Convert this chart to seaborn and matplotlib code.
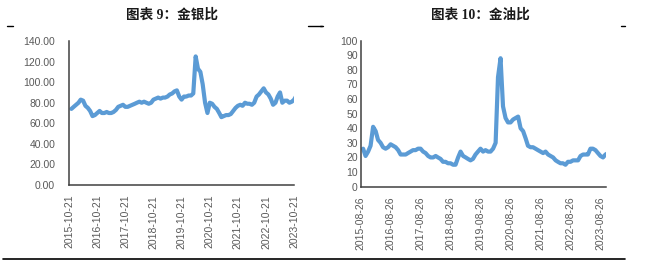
import numpy as np
import pandas as pd
import seaborn as sns
import matplotlib.pyplot as plt
import matplotlib.dates as mdates
from matplotlib.lines import Line2D

# -----------------------------
# Data (monthly readings)
# -----------------------------
gs_start = '2015-10-21'
gold_silver = [
    74, 76, 78,
    80, 83, 82, 77, 75, 72, 67, 68, 70, 72, 70, 70,
    71, 70, 70, 71, 73, 76, 77, 78, 76, 76, 77, 78,
    79, 80, 81, 80, 81, 80, 79, 80, 83, 84, 85, 84,
    85, 85, 86, 88, 89, 91, 92, 86, 83, 86, 86, 87,
    87, 89, 125, 113, 110, 98, 80, 70, 80, 79, 76, 74,
    70, 66, 67, 68, 68, 69, 72, 75, 77, 78, 77, 80,
    79, 79, 78, 80, 86, 88, 91, 94, 90, 88, 84, 78,
    80, 86, 90, 80, 82, 82, 80, 81, 83, 87,
]
gs_ticks = ['2015-10-21', '2016-10-21', '2017-10-21', '2018-10-21', '2019-10-21',
            '2020-10-21', '2021-10-21', '2022-10-21', '2023-10-21']

go_start = '2015-08-26'
gold_oil = [
    26, 21, 24, 28, 41, 38, 32, 30, 27, 26, 27, 29,
    28, 27, 25, 22, 22, 22, 23, 24, 25, 25, 26, 26,
    24, 23, 21, 20, 20, 21, 20, 19, 17, 17, 16, 16,
    15, 15, 20, 24, 21, 20, 19, 18, 19, 22, 24, 26,
    24, 25, 24, 24, 26, 30, 75, 88, 55, 47, 44, 44,
    46, 47, 48, 40, 38, 33, 28, 27, 27, 26, 25, 24,
    23, 24, 22, 21, 20, 18, 17, 16, 16, 15, 17, 17,
    18, 18, 18, 21, 22, 22, 22, 26, 26, 25, 23, 21,
    20, 22, 23,
]
go_ticks = ['2015-08-26', '2016-08-26', '2017-08-26', '2018-08-26', '2019-08-26',
            '2020-08-26', '2021-08-26', '2022-08-26', '2023-08-26']

LINE_COLOR = '#5B9BD5'
TEXT_COLOR = '#595959'
SPINE_COLOR = '#404040'


def make_frame(start, values):
    dates = pd.date_range(start, periods=len(values), freq='MS') + pd.Timedelta(days=pd.Timestamp(start).day - 1)
    return pd.DataFrame({'date': dates, 'value': values})


def style_axis(ax, ticks, ylim, yticks, fmt, ypad, xlim):
    ax.set_xlim(pd.Timestamp(xlim[0]), pd.Timestamp(xlim[1]))
    ax.set_ylim(*ylim)
    ax.set_xticks(pd.to_datetime(ticks))
    ax.xaxis.set_major_formatter(mdates.DateFormatter('%Y-%m-%d'))
    ax.set_yticks(yticks)
    ax.set_yticklabels([fmt.format(v) for v in yticks])
    ax.tick_params(axis='x', rotation=90, length=0, pad=7, labelsize=7.5, labelcolor=TEXT_COLOR)
    ax.tick_params(axis='y', length=0, pad=ypad, labelsize=7.5, labelcolor=TEXT_COLOR)
    for lbl in ax.get_xticklabels() + ax.get_yticklabels():
        lbl.set_fontfamily('Liberation Sans')
    for side in ['top', 'right']:
        ax.spines[side].set_visible(False)
    for side in ['left', 'bottom']:
        ax.spines[side].set_color(SPINE_COLOR)
        ax.spines[side].set_linewidth(1.1)
    ax.set_xlabel('')
    ax.set_ylabel('')
    ax.grid(False)


sns.set_theme(style='white')
plt.rcParams['font.family'] = ['Liberation Sans', 'Noto Sans CJK SC', 'DejaVu Sans']

fig = plt.figure(figsize=(6.45, 2.61), dpi=100)

# Left panel: gold / silver
ax1 = fig.add_axes([0.107, 0.291, 0.349, 0.552])
df1 = make_frame(gs_start, gold_silver)
sns.lineplot(data=df1, x='date', y='value', ax=ax1, color=LINE_COLOR, linewidth=3.0)
style_axis(ax1, gs_ticks, (0, 140), np.arange(0, 141, 20), '{:.2f}', 10,
           ('2015-10-21', '2023-10-21'))

# Right panel: gold / oil
ax2 = fig.add_axes([0.559, 0.285, 0.381, 0.559])
df2 = make_frame(go_start, gold_oil)
sns.lineplot(data=df2, x='date', y='value', ax=ax2, color=LINE_COLOR, linewidth=3.0)
style_axis(ax2, go_ticks, (0, 100), np.arange(0, 101, 10), '{:.0f}', 2,
           ('2015-08-26', '2023-11-05'))

# Titles
title_font = ['Liberation Serif', 'Noto Sans CJK SC']
fig.text(172 / 645, 1 - 15 / 261, '图表 9：金银比', ha='center', va='center',
         fontsize=9.8, fontweight='bold', family=title_font, color='#1a1a1a')
fig.text(480 / 645, 1 - 15 / 261, '图表 10：金油比', ha='center', va='center',
         fontsize=9.8, fontweight='bold', family=title_font, color='#1a1a1a')

# Header dashes and bottom rule
for x0, x1 in [(7, 13), (308, 322), (320, 323), (621, 625)]:
    fig.add_artist(Line2D([x0 / 645, x1 / 645], [1 - 25.5 / 261] * 2, color='black', lw=1.0))
fig.add_artist(Line2D([3 / 645, 625 / 645], [1 - 259 / 261] * 2, color='black', lw=1.2))

fig.savefig('out.png', dpi=100)
